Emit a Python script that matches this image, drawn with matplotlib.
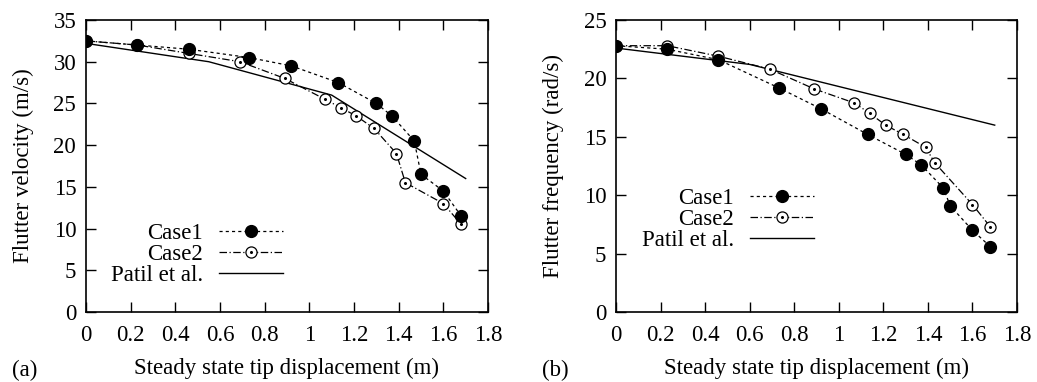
import matplotlib
matplotlib.use("Agg")
import matplotlib.pyplot as plt
from matplotlib.lines import Line2D
from matplotlib.legend_handler import HandlerTuple

plt.rcParams['font.family'] = ['Liberation Serif', 'DejaVu Serif']
plt.rcParams['font.size'] = 16.5

# (a) flutter velocity
c1_x_a = [0, 0.23, 0.46, 0.73, 0.92, 1.13, 1.30, 1.37, 1.47, 1.50, 1.60, 1.68]
c1_v = [32.5, 32.0, 31.5, 30.5, 29.5, 27.5, 25.0, 23.5, 20.5, 16.5, 14.5, 11.5]
c2_x_a = [0, 0.23, 0.46, 0.69, 0.89, 1.07, 1.14, 1.21, 1.29, 1.39, 1.43, 1.60, 1.68]
c2_v = [32.5, 32.0, 31.0, 30.0, 28.0, 25.5, 24.5, 23.5, 22.0, 19.0, 15.5, 13.0, 10.5]
patil_x_a = [0, 0.55, 1.1, 1.7]
patil_v = [32.2, 30.0, 26.0, 16.0]

# (b) flutter frequency
c1_x_b = [0, 0.23, 0.46, 0.73, 0.92, 1.13, 1.30, 1.37, 1.47, 1.50, 1.60, 1.68]
c1_f = [22.8, 22.5, 21.6, 19.2, 17.4, 15.2, 13.5, 12.6, 10.6, 9.1, 7.0, 5.6]
c2_x_b = [0, 0.23, 0.46, 0.69, 0.89, 1.07, 1.14, 1.21, 1.29, 1.39, 1.43, 1.60, 1.68]
c2_f = [22.8, 22.8, 21.9, 20.8, 19.1, 17.9, 17.0, 16.0, 15.2, 14.1, 12.8, 9.2, 7.3]
patil_x_b = [0, 0.6, 1.7]
patil_f = [22.6, 21.2, 16.0]

xticks = [0, 0.2, 0.4, 0.6, 0.8, 1, 1.2, 1.4, 1.6, 1.8]
xticklabels = ['0', '0.2', '0.4', '0.6', '0.8', '1', '1.2', '1.4', '1.6', '1.8']

fig = plt.figure(figsize=(10.37, 3.82), dpi=100)
ax1 = fig.add_axes([0.0829, 0.1832, 0.3877, 0.7644])
ax2 = fig.add_axes([0.594, 0.1832, 0.3867, 0.7644])

dash1 = (0, (2.5, 2.5))
dash2 = (0, (6, 2, 1, 2))


def panel(ax, x1, y1, x2, y2, xp, yp, ymax, ystep, ylabel, tag, legend_anchor):
    ax.plot(xp, yp, '-', color='black', lw=1.0)
    ax.plot(x2, y2, linestyle=dash2, color='black', lw=0.9,
            marker='o', ms=8, mfc='white', mec='black', mew=0.9)
    ax.plot(x2, y2, linestyle='none', marker='o', ms=1.2, color='black')
    ax.plot(x1, y1, linestyle=dash1, color='black', lw=0.9,
            marker='o', ms=8.5, mfc='black', mec='black')
    ax.set_xlim(0, 1.8)
    ax.set_ylim(0, ymax)
    ax.set_xticks(xticks)
    ax.set_xticklabels(xticklabels)
    ax.set_yticks(range(0, ymax + 1, ystep))
    ax.tick_params(direction='in', length=7, width=1, top=True, right=True)
    ax.tick_params(axis='x', pad=9)
    ax.tick_params(axis='y', pad=7)
    for s in ax.spines.values():
        s.set_linewidth(1.2)
    ax.set_ylabel(ylabel, labelpad=14)
    ax.set_xlabel('Steady state tip displacement (m)', labelpad=9)
    ax.text(-0.185, -0.2, tag, transform=ax.transAxes, ha='left', va='center')

    h1 = Line2D([], [], linestyle=dash1, color='black', lw=0.9,
                marker='o', ms=8.5, mfc='black', mec='black')
    h2a = Line2D([], [], linestyle=dash2, color='black', lw=0.9,
                 marker='o', ms=8, mfc='white', mec='black', mew=0.9)
    h2b = Line2D([], [], linestyle='none', marker='o', ms=1.2, color='black')
    h3 = Line2D([], [], linestyle='-', color='black', lw=1.0)
    ax.legend([h1, (h2a, h2b), h3], ['Case1', 'Case2', 'Patil et al.'],
              handler_map={tuple: HandlerTuple(ndivide=1, pad=0)},
              loc='upper right', bbox_to_anchor=legend_anchor, frameon=False,
              markerfirst=False, numpoints=1, handlelength=2.8,
              handletextpad=0.7, labelspacing=0.0, borderpad=0,
              borderaxespad=0, fontsize=16.5)


panel(ax1, c1_x_a, c1_v, c2_x_a, c2_v, patil_x_a, patil_v, 35, 5,
      'Flutter velocity (m/s)', '(a)', (0.49, 0.305))
panel(ax2, c1_x_b, c1_f, c2_x_b, c2_f, patil_x_b, patil_f, 25, 5,
      'Flutter frequency (rad/s)', '(b)', (0.494, 0.425))

fig.savefig('out.png', dpi=100)
